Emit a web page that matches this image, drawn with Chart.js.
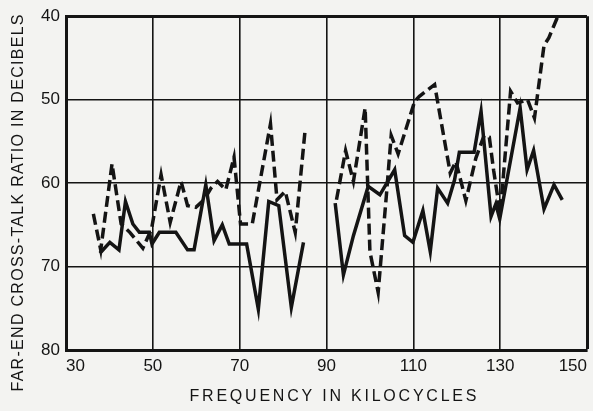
<!DOCTYPE html>
<html>
<head>
<meta charset="utf-8">
<script src="https://cdn.jsdelivr.net/npm/chart.js@4"></script>
<style>
  html, body { margin: 0; padding: 0; background: #f3f3f1; }
  #wrap { width: 593px; height: 411px; position: relative; }
</style>
</head>
<body>
<div id="wrap"><canvas id="c" width="593" height="411"></canvas></div>
<script>
// ---- data ----
const xTicks = [30, 50, 70, 90, 110, 130, 150];
const yTicks = [40, 50, 60, 70, 80];

const solidFreq = [37.8, 40.1, 42.2, 43.7, 45.4, 46.9, 49.2, 49.8, 51.5, 55.3, 58.0, 59.5, 62.2, 64.1, 66.0, 67.6, 71.6, 74.3, 76.7, 79.0, 81.9, 84.7,
  88,
  92.0, 93.9, 96.2, 99.6, 102.3, 105.7, 108.0, 109.9, 112.2, 113.9, 115.6, 117.9, 119.5, 120.6, 124.0, 125.6, 127.9, 129.0, 129.9, 134.6, 136.2, 137.7, 140.1, 142.4, 144.3];
const solidDb = [68.4, 67.1, 68.0, 62.2, 64.9, 65.9, 65.9, 67.3, 65.9, 65.9, 68.0, 68.0, 60.2, 66.9, 65.0, 67.3, 67.3, 75.1, 62.2, 62.7, 74.9, 67.1,
  null,
  62.4, 71.0, 66.3, 60.4, 61.4, 58.4, 66.3, 67.1, 63.3, 68.2, 60.6, 62.4, 59.6, 56.3, 56.3, 51.4, 64.0, 62.5, 64.3, 51.0, 58.4, 56.1, 63.1, 60.2, 62.0];

const dashedFreq = [36.3, 38.0, 40.6, 42.7, 44.7, 47.7, 49.7, 51.9, 54.0, 56.5, 58.0, 59.9, 61.8, 63.4, 64.9, 66.8, 68.7, 70.2, 72.9, 77.1, 78.6, 80.5, 82.8, 85.1,
  88,
  92.3, 94.4, 96.2, 98.9, 100.0, 101.9, 103.8, 104.9, 106.5, 110.3, 111.4, 114.9, 118.5, 119.8, 122.1, 124.4, 126.3, 127.5, 128.5, 130.0, 132.4, 134.0, 136.3, 137.9, 140.1, 141.2, 143.3];
const dashedDb = [63.7, 68.0, 57.7, 64.9, 65.9, 67.8, 65.5, 59.0, 64.7, 59.8, 62.7, 62.9, 62.0, 60.6, 59.8, 60.8, 56.9, 64.9, 64.9, 52.9, 62.0, 61.0, 65.9, 53.5,
  null,
  62.0, 56.1, 59.8, 51.0, 68.2, 73.1, 61.4, 54.3, 56.5, 50.2, 49.6, 48.2, 58.8, 57.4, 62.1, 57.0, 54.3, 54.5, 58.5, 63.6, 49.0, 50.4, 50.0, 52.2, 43.5, 42.6, 40.0];

const xTitle = 'FREQUENCY IN KILOCYCLES';
const yTitle = 'FAR-END CROSS-TALK RATIO IN DECIBELS';

const toPoints = (xs, ys) => xs.map((x, i) => ({ x: x, y: ys[i] }));

const INK = '#141414';
const FONT = '"Liberation Sans", Arial, sans-serif';

const bgPlugin = {
  id: 'bg',
  beforeDraw(chart) {
    const ctx = chart.ctx;
    ctx.save();
    ctx.fillStyle = '#f3f3f1';
    ctx.fillRect(0, 0, chart.width, chart.height);
    ctx.restore();
  }
};

function spacedText(ctx, text, cx, cy, targetWidth) {
  ctx.letterSpacing = '0px';
  const w0 = ctx.measureText(text).width;
  const n = text.length - 1;
  const sp = Math.max(0, (targetWidth - w0) / n);
  ctx.letterSpacing = sp.toFixed(2) + 'px';
  const w = ctx.measureText(text).width;
  ctx.textAlign = 'left';
  ctx.textBaseline = 'middle';
  ctx.fillText(text, cx - (w - sp) / 2, cy);
  ctx.letterSpacing = '0px';
}

const titlePlugin = {
  id: 'axisTitles',
  afterDraw(chart) {
    const ctx = chart.ctx;
    ctx.save();
    ctx.fillStyle = INK;
    ctx.font = '16px ' + FONT;
    spacedText(ctx, xTitle, 333, 397, 287);
    ctx.translate(19, 203);
    ctx.rotate(-Math.PI / 2);
    spacedText(ctx, yTitle, 0, 0, 377);
    ctx.restore();
  }
};

new Chart(document.getElementById('c'), {
  type: 'line',
  data: {
    datasets: [
      {
        label: 'solid',
        data: toPoints(solidFreq, solidDb),
        borderColor: INK,
        borderWidth: 3.5,
        pointRadius: 0,
        tension: 0,
        spanGaps: false,
        fill: false
      },
      {
        label: 'dashed',
        data: toPoints(dashedFreq, dashedDb),
        borderColor: INK,
        borderWidth: 3.5,
        borderDash: [11, 5],
        pointRadius: 0,
        tension: 0,
        spanGaps: false,
        fill: false
      }
    ]
  },
  options: {
    responsive: false,
    animation: false,
    devicePixelRatio: 1,
    layout: { padding: { top: 10, right: 3, left: 0, bottom: 0 } },
    plugins: {
      legend: { display: false },
      tooltip: { enabled: false }
    },
    scales: {
      x: {
        type: 'linear',
        min: 30,
        max: 150,
        afterBuildTicks(scale) { scale.ticks = xTicks.map(v => ({ value: v })); },
        afterFit(scale) { scale.height = 61; },
        ticks: {
          color: INK,
          font: { size: 17, family: FONT },
          padding: 6,
          align: 'inner',
          maxRotation: 0,
          autoSkip: false
        },
        grid: {
          color: INK,
          lineWidth: (c) => (c.tick && c.tick.value === 150 ? 3 : 1.6),
          drawTicks: false
        },
        border: { color: INK, width: 3 }
      },
      y: {
        type: 'linear',
        reverse: true,
        min: 40,
        max: 80,
        afterBuildTicks(scale) { scale.ticks = yTicks.map(v => ({ value: v })); },
        afterFit(scale) { scale.width = 66; },
        ticks: {
          color: INK,
          font: { size: 17, family: FONT },
          padding: 6,
          autoSkip: false
        },
        grid: {
          color: INK,
          lineWidth: (c) => (c.tick && c.tick.value === 40 ? 3 : 1.6),
          drawTicks: false
        },
        border: { color: INK, width: 3 }
      }
    }
  },
  plugins: [bgPlugin, titlePlugin]
});
</script>
</body>
</html>
